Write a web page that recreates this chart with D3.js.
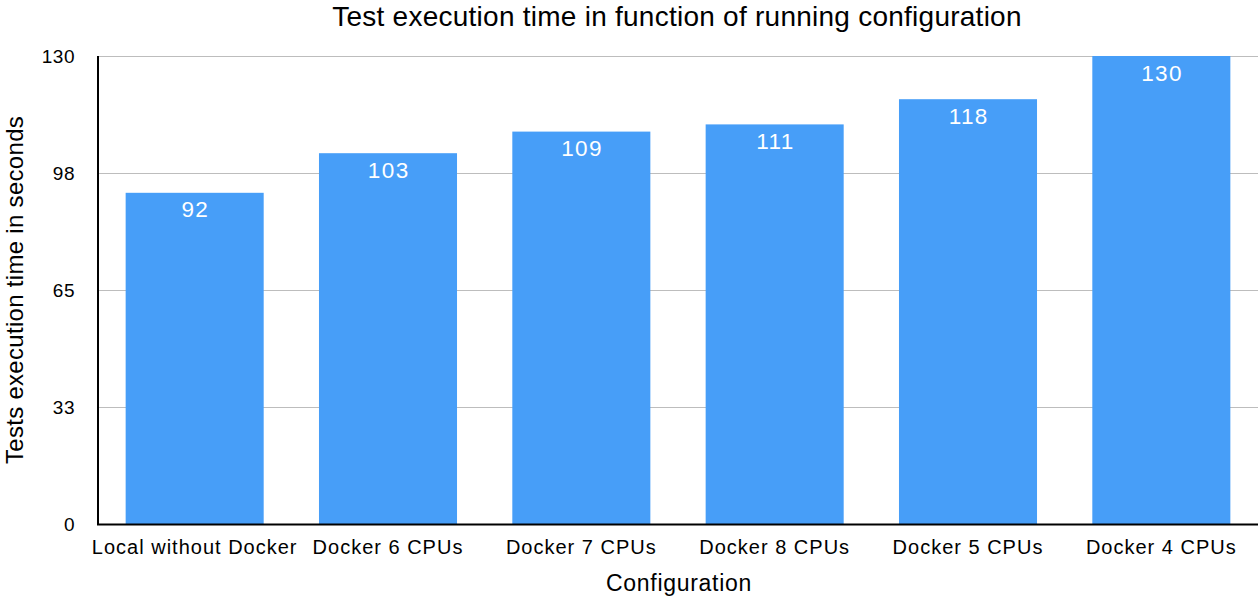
<!DOCTYPE html>
<html>
<head>
<meta charset="utf-8">
<script src="https://cdn.jsdelivr.net/npm/d3@7"></script>
<style>
  html, body { margin: 0; padding: 0; background: #fff; }
  svg { display: block; font-family: "Liberation Sans", Arial, Helvetica, sans-serif; }
</style>
</head>
<body>
<script>
const categories = ["Local without Docker", "Docker 6 CPUs", "Docker 7 CPUs", "Docker 8 CPUs", "Docker 5 CPUs", "Docker 4 CPUs"];
const values = [92, 103, 109, 111, 118, 130];
const tickValues = [0, 32.5, 65, 97.5, 130];
const tickLabels = ["0", "33", "65", "98", "130"];

const W = 1258, H = 598;
const margin = { left: 98, right: 0, top: 56, bottom: 74 };
const svg = d3.select("body").append("svg").attr("width", W).attr("height", H);

const x = d3.scaleBand().domain(categories)
  .range([margin.left, W - margin.right])
  .paddingInner(0.286).paddingOuter(0.143);
const y = d3.scaleLinear().domain([0, 130]).range([H - margin.bottom, margin.top]);

// gridlines
svg.append("g").selectAll("line").data(tickValues.slice(1)).join("line")
  .attr("x1", margin.left).attr("x2", W)
  .attr("y1", d => Math.round(y(d)) + 0.5).attr("y2", d => Math.round(y(d)) + 0.5)
  .attr("stroke", "#bdbdbd").attr("stroke-width", 1);

// bars
svg.append("g").selectAll("rect").data(values).join("rect")
  .attr("x", (d, i) => x(categories[i]))
  .attr("width", x.bandwidth())
  .attr("y", d => y(d))
  .attr("height", d => y(0) - y(d))
  .attr("fill", "#479ef8");

// value labels
svg.append("g").selectAll("text").data(values).join("text")
  .attr("x", (d, i) => x(categories[i]) + x.bandwidth() / 2 + 0.7)
  .attr("y", d => y(d) + 24.5)
  .attr("text-anchor", "middle")
  .attr("fill", "#fff")
  .attr("font-size", 22.5)
  .attr("letter-spacing", 1.4)
  .text(d => d);

// y axis
const yAxis = d3.axisLeft(y).tickValues(tickValues)
  .tickFormat((d, i) => tickLabels[i]).tickSize(0).tickPadding(23);
const yg = svg.append("g").attr("transform", `translate(${margin.left},0)`).call(yAxis);
yg.select(".domain").remove();
yg.selectAll("text").attr("font-size", 19).attr("fill", "#000")
  .attr("letter-spacing", 0.5)
  .attr("font-family", "'Liberation Sans', Arial, sans-serif");

// x axis
const xAxis = d3.axisBottom(x).tickSize(0);
const xg = svg.append("g").attr("transform", `translate(0,${y(0)})`).call(xAxis);
xg.select(".domain").remove();
xg.selectAll("text").attr("font-size", 20).attr("fill", "#000")
  .attr("letter-spacing", 1)
  .attr("y", 30).attr("dy", 0)
  .attr("font-family", "'Liberation Sans', Arial, sans-serif");

// axis lines
svg.append("line").attr("x1", margin.left).attr("x2", margin.left)
  .attr("y1", margin.top).attr("y2", y(0) + 1)
  .attr("stroke", "#000").attr("stroke-width", 2);
svg.append("line").attr("x1", margin.left - 1).attr("x2", W)
  .attr("y1", y(0) + 0.5).attr("y2", y(0) + 0.5)
  .attr("stroke", "#000").attr("stroke-width", 2);

// title
svg.append("text").attr("x", 677).attr("y", 26)
  .attr("text-anchor", "middle").attr("font-size", 28).attr("fill", "#000")
  .attr("letter-spacing", 0.25)
  .text("Test execution time in function of running configuration");

// axis titles
svg.append("text").attr("x", 679).attr("y", 591)
  .attr("text-anchor", "middle").attr("font-size", 23).attr("fill", "#000")
  .attr("letter-spacing", 0.7)
  .text("Configuration");
svg.append("text")
  .attr("transform", `translate(23,290) rotate(-90)`)
  .attr("text-anchor", "middle").attr("font-size", 24).attr("fill", "#000")
  .attr("letter-spacing", 0.3)
  .text("Tests execution time in seconds");
</script>
</body>
</html>
